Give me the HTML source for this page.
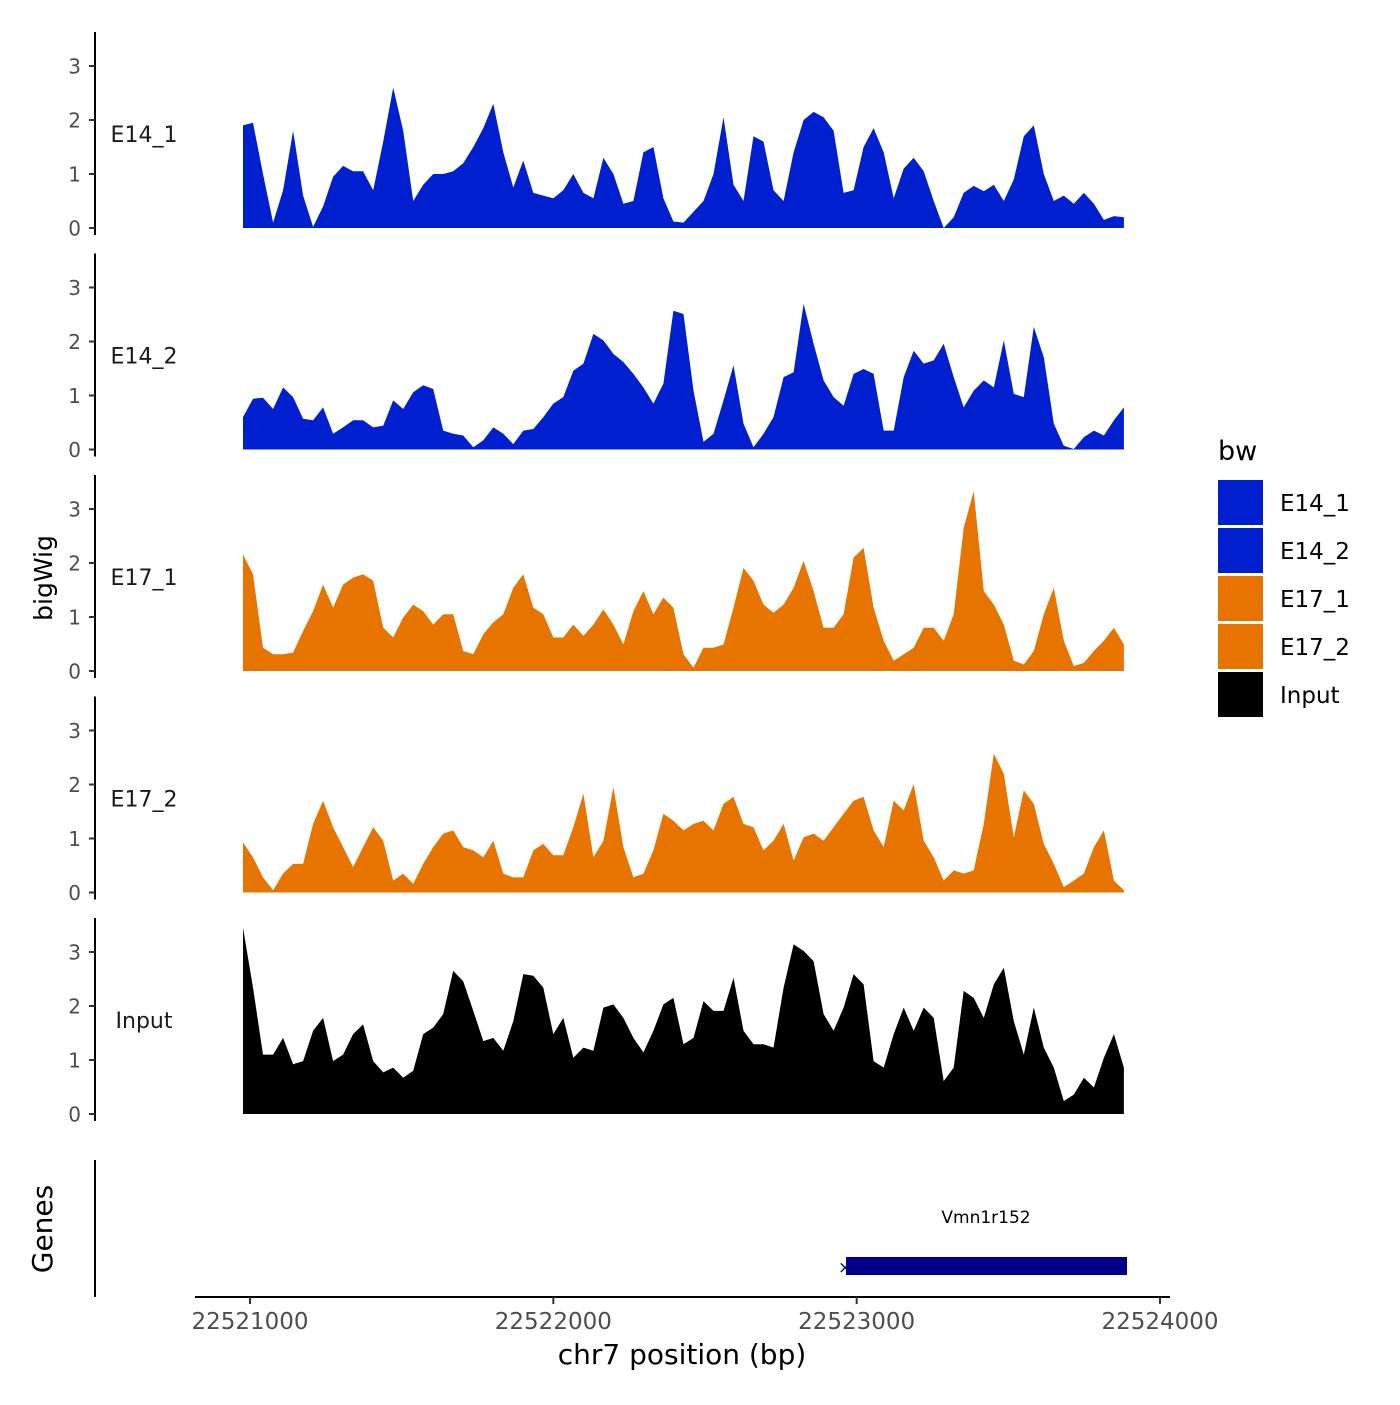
<!DOCTYPE html>
<html><head><meta charset="utf-8"><style>
html,body{margin:0;padding:0;background:#fff;}
svg text{font-family:"DejaVu Sans","Liberation Sans",sans-serif;}
</style></head><body>
<svg id="chart" width="1400" height="1400" viewBox="0 0 1400 1400" xmlns="http://www.w3.org/2000/svg">
<rect width="1400" height="1400" fill="#fff"/>
<g id="tracks"></g>
<text x="52" y="578" font-size="25" transform="rotate(-90 52 578)" text-anchor="middle" fill="#000">bigWig</text>
<line x1="95" y1="1160" x2="95" y2="1297" stroke="#000" stroke-width="2"/>
<text x="52" y="1229" font-size="28" transform="rotate(-90 52 1229)" text-anchor="middle" fill="#000">Genes</text>
<line x1="195" y1="1297" x2="1170" y2="1297" stroke="#000" stroke-width="2"/>
<g id="xticks"></g>
<text x="682" y="1364" font-size="28" text-anchor="middle" fill="#000">chr7 position (bp)</text>
<g>
<rect id="genebar" x="846" y="1257" width="281" height="18" fill="#00008B"/>
<text x="838" y="1273" font-size="17" fill="#00008B">×</text>
<text x="1120" y="1273" font-size="17" fill="#00008B">›</text>
<text x="986" y="1223" font-size="17" text-anchor="middle" fill="#000">Vmn1r152</text>
</g>
<g>
<text x="1218" y="460" font-size="27" fill="#000">bw</text>
<g id="legend"></g>
</g>
</svg>
<script>
const START = 22520977;
const STEP = 33;
const seriesNames = ["E14_1","E14_2","E17_1","E17_2","Input"];
const seriesColors = ["#0020D0","#0020D0","#E87400","#E87400","#000000"];
const e14_1 = [1.9,1.95,1.0,0.1,0.7,1.8,0.6,0.02,0.4,0.95,1.15,1.05,1.05,0.7,1.6,2.6,1.8,0.5,0.8,1.0,1.0,1.05,1.2,1.5,1.85,2.3,1.4,0.75,1.25,0.65,0.6,0.55,0.7,1.0,0.65,0.55,1.3,1.0,0.45,0.5,1.4,1.5,0.55,0.12,0.1,0.3,0.5,1.0,2.05,0.8,0.5,1.7,1.6,0.7,0.5,1.4,2.0,2.15,2.05,1.8,0.65,0.7,1.5,1.85,1.4,0.55,1.1,1.3,1.05,0.5,0,0.2,0.65,0.78,0.68,0.8,0.5,0.9,1.7,1.9,1.0,0.5,0.6,0.45,0.65,0.45,0.15,0.22,0.2];
const e14_2 = [0.6,0.94,0.96,0.75,1.15,0.97,0.57,0.54,0.78,0.29,0.41,0.54,0.54,0.41,0.44,0.91,0.75,1.06,1.19,1.12,0.35,0.29,0.26,0.04,0.17,0.41,0.29,0.1,0.35,0.38,0.6,0.85,0.97,1.46,1.59,2.14,2.02,1.77,1.62,1.4,1.15,0.85,1.22,2.57,2.51,1.09,0.14,0.29,0.91,1.56,0.48,0.04,0.29,0.6,1.34,1.43,2.7,1.96,1.28,0.97,0.81,1.4,1.49,1.4,0.35,0.35,1.34,1.83,1.59,1.65,1.96,1.34,0.78,1.09,1.28,1.15,2.02,1.03,0.97,2.27,1.71,0.48,0.07,0.01,0.23,0.35,0.26,0.54,0.78];
const e17_1 = [2.16,1.79,0.43,0.31,0.31,0.34,0.74,1.11,1.6,1.17,1.6,1.73,1.79,1.67,0.8,0.62,0.99,1.23,1.11,0.86,1.05,1.05,0.37,0.31,0.68,0.9,1.05,1.54,1.79,1.17,1.05,0.62,0.62,0.86,0.65,0.86,1.14,0.86,0.49,1.11,1.48,1.05,1.36,1.17,0.31,0.06,0.43,0.43,0.49,1.17,1.91,1.67,1.23,1.08,1.23,1.54,2.04,1.48,0.8,0.8,1.05,2.1,2.28,1.17,0.56,0.19,0.31,0.43,0.8,0.8,0.56,1.05,2.65,3.33,1.48,1.23,0.86,0.19,0.12,0.37,1.05,1.54,0.56,0.09,0.15,0.37,0.56,0.8,0.49];
const e17_2 = [0.93,0.65,0.28,0.04,0.35,0.53,0.53,1.27,1.7,1.21,0.84,0.47,0.84,1.21,0.96,0.22,0.35,0.16,0.53,0.84,1.09,1.15,0.84,0.78,0.65,0.96,0.35,0.28,0.28,0.78,0.9,0.69,0.69,1.21,1.83,0.65,0.96,1.95,0.84,0.28,0.35,0.78,1.46,1.33,1.15,1.27,1.33,1.15,1.64,1.77,1.27,1.21,0.78,0.96,1.27,0.59,1.02,1.09,0.96,1.21,1.46,1.7,1.77,1.15,0.84,1.7,1.52,2.01,0.96,0.65,0.22,0.41,0.35,0.41,1.27,2.57,2.2,1.02,1.89,1.64,0.9,0.53,0.1,0.22,0.35,0.84,1.15,0.22,0.04];
const input = [3.45,2.34,1.1,1.1,1.41,0.92,0.98,1.54,1.78,0.98,1.1,1.48,1.66,0.98,0.77,0.86,0.67,0.8,1.48,1.6,1.85,2.65,2.46,1.91,1.35,1.41,1.17,1.72,2.59,2.56,2.34,1.48,1.78,1.04,1.23,1.17,1.97,2.03,1.78,1.41,1.14,1.54,2.03,2.15,1.29,1.41,2.09,1.91,1.91,2.52,1.54,1.29,1.29,1.23,2.34,3.14,3.02,2.83,1.85,1.54,1.97,2.59,2.4,0.98,0.86,1.48,1.97,1.54,1.97,1.78,0.61,0.86,2.28,2.15,1.78,2.4,2.71,1.72,1.1,1.97,1.23,0.86,0.24,0.36,0.67,0.49,1.04,1.48,0.86];
const yTicks = [0,1,2,3];
const xTicks = [22521000,22522000,22523000,22524000];

const allSeries = [e14_1,e14_2,e17_1,e17_2,input];
const NS = "http://www.w3.org/2000/svg";
const xScale = bp => 250 + (bp - 22521000) * 0.30333;
const panelBase = [228, 449.5, 671, 892.5, 1114];
const UNIT = 54;
const yScale = (p, v) => panelBase[p] - v * UNIT;
function mk(tag, attrs){ const e=document.createElementNS(NS,tag); for(const k in attrs) e.setAttribute(k,attrs[k]); return e; }
const tracks = document.getElementById('tracks');
allSeries.forEach((vals, p) => {
  const g = mk('g', {});
  
  
  const b = panelBase[p];
  const ax = mk('line', {x1:95, y1:b-196, x2:95, y2:b+7, stroke:'#000','stroke-width':2});
  
  
  g.appendChild(ax);
  yTicks.forEach(t => {
    const y = yScale(p, t);
    const tk = mk('line', {x1:89, y1:y, x2:95, y2:y, stroke:'#333','stroke-width':2});
    
    
    g.appendChild(tk);
    const tl = mk('text', {x:81, y:y+7.5, 'font-size':20, 'text-anchor':'end', fill:'#4d4d4d'});
    tl.textContent = t;
    
    
    g.appendChild(tl);
  });
  const lbl = mk('text', {x:144, y:b-86, 'font-size':22, 'text-anchor':'middle', fill:'#1a1a1a'});
  lbl.textContent = seriesNames[p];
  
  
  g.appendChild(lbl);
  let pts = [];
  const x0 = xScale(START), x1 = xScale(START + (vals.length-1)*STEP);
  pts.push(x0.toFixed(1)+','+b);
  vals.forEach((v,i) => pts.push(xScale(START+i*STEP).toFixed(1)+','+yScale(p,v).toFixed(1)));
  pts.push(x1.toFixed(1)+','+b);
  const area = mk('polygon', {points:pts.join(' '), fill:seriesColors[p]});
  
  
  g.appendChild(area);
  tracks.appendChild(g);
});
const xt = document.getElementById('xticks');
xTicks.forEach(t => {
  const x = xScale(t);
  const tk = mk('line', {x1:x, y1:1297, x2:x, y2:1304, stroke:'#333','stroke-width':2});
  
  
  xt.appendChild(tk);
  const tl = mk('text', {x:x, y:1329, 'font-size':23, 'text-anchor':'middle', fill:'#4d4d4d'});
  tl.textContent = t;
  
  
  xt.appendChild(tl);
});
const lg = document.getElementById('legend');
seriesNames.forEach((n,i) => {
  const y = 480 + i*48;
  const r = mk('rect', {x:1218, y:y, width:45, height:45, fill:seriesColors[i]});
  
  
  lg.appendChild(r);
  const t = mk('text', {x:1280, y:y+31, 'font-size':23, fill:'#000'});
  t.textContent = n;
  
  
  lg.appendChild(t);
});
</script>
</body></html>
